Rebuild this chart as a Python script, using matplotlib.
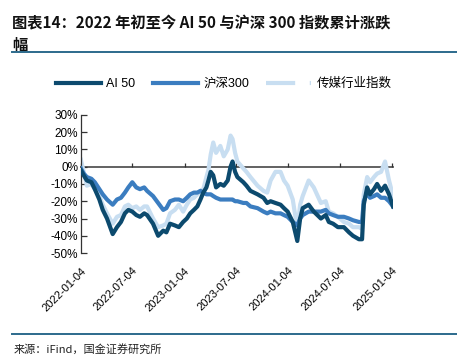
import matplotlib
matplotlib.use('Agg')
import matplotlib.pyplot as plt
import matplotlib.dates as mdates
from matplotlib.lines import Line2D
from matplotlib.ticker import FuncFormatter
import pandas as pd

plt.rcParams['font.family'] = ['Liberation Sans', 'Noto Sans CJK SC', 'DejaVu Sans']

# 读图估计的数值（%）
dates = pd.to_datetime([
    '2022-01-04', '2022-01-14', '2022-01-25', '2022-02-10', '2022-02-22', '2022-03-10',
    '2022-03-22', '2022-04-06', '2022-04-26', '2022-05-11', '2022-05-25', '2022-06-08',
    '2022-06-20', '2022-07-04', '2022-07-18', '2022-07-31', '2022-08-15', '2022-08-25',
    '2022-09-15', '2022-10-03', '2022-10-21', '2022-11-01', '2022-11-14', '2022-12-01',
    '2022-12-15', '2022-12-30', '2023-01-12', '2023-01-24', '2023-02-06', '2023-02-18',
    '2023-03-01', '2023-03-11', '2023-03-22', '2023-03-29', '2023-04-06', '2023-04-15',
    '2023-04-25', '2023-05-10', '2023-05-22', '2023-06-05', '2023-06-15', '2023-06-22',
    '2023-07-01', '2023-07-09', '2023-07-30', '2023-08-10', '2023-08-24', '2023-09-18',
    '2023-10-09', '2023-10-22', '2023-11-03', '2023-11-20', '2023-12-08', '2023-12-20',
    '2024-01-02', '2024-01-20', '2024-02-05', '2024-02-15', '2024-02-24', '2024-03-16',
    '2024-04-03', '2024-04-28', '2024-05-15', '2024-05-26', '2024-06-10', '2024-06-27',
    '2024-07-18', '2024-08-05', '2024-08-19', '2024-09-09', '2024-09-20', '2024-09-26',
    '2024-10-08', '2024-10-18', '2024-11-01', '2024-11-12', '2024-11-26', '2024-12-10',
    '2024-12-24', '2025-01-07',
])

ai50 = [
    -2, -5, -8, -9, -13, -19, -25, -30, -39, -35, -32, -27,
    -25, -26, -28, -29, -27, -28, -33, -40, -37, -38, -33, -34,
    -35, -32, -30, -27, -25, -23, -19, -15, -12, -8, -3, -5,
    -12, -10, -11, -8, 0, 3, -3, -6, -9, -11, -14, -16,
    -18, -21, -20, -21, -22, -24, -26, -32, -43, -30, -24, -22,
    -26, -30, -28, -32, -33, -35, -35, -38, -40, -42, -42, -22,
    -12, -16, -13, -10, -14, -11, -16, -23,
]

hs300 = [
    -1, -4, -6, -7, -9, -13, -16, -19, -22, -19, -18, -15,
    -12, -9, -12, -13, -12, -14, -17, -21, -25, -24, -20, -19,
    -19, -20, -18, -16, -15, -15, -14, -15, -16, -16, -16, -17,
    -18, -19, -19, -19, -19, -19, -20, -20, -21, -21, -23, -24,
    -26, -27, -26, -27, -27, -28, -29, -32, -34, -30, -28, -26,
    -26, -26, -25, -27, -28, -29, -29, -30, -31, -32, -32, -20,
    -15, -18, -17, -16, -18, -18, -20, -23,
]

media = [
    4, -3, -11, -10, -13, -17, -22, -27, -33, -29, -28, -23,
    -22, -24, -23, -25, -23, -23, -30, -35, -34, -33, -27, -25,
    -22, -26, -22, -19, -18, -16, -14, -13, -6, -2, 7, 14,
    8, 12, 6, 10, 18, 16, 8, 3, -1, -3, -6, -11,
    -14, -15, -8, -3, -3, -8, -11, -19, -36, -22, -17, -8,
    -12, -21, -20, -26, -27, -29, -32, -33, -35, -35, -36, -16,
    -6, -9, -6, -4, -3, 3, -8, -17,
]

labels = ['AI 50', '沪深300', '传媒行业指数']
tick_dates = pd.to_datetime(['2022-01-04', '2022-07-04', '2023-01-04', '2023-07-04',
                             '2024-01-04', '2024-07-04', '2025-01-04'])

c_ai = '#0c4a6e'
c_hs = '#3b7dc0'
c_md = '#c8def1'

fig = plt.figure(figsize=(4.57, 3.6), dpi=100)
ax = fig.add_axes([0.177, 0.297, 0.683, 0.384])

ax.plot(dates, media, color=c_md, lw=3.0, zorder=2)
ax.plot(dates, hs300, color=c_hs, lw=3.0, zorder=3)
ax.plot(dates, ai50, color=c_ai, lw=3.0, zorder=4)

ax.set_ylim(-50, 30)
ax.set_yticks(range(-50, 31, 10))
ax.yaxis.set_major_formatter(FuncFormatter(lambda v, p: f'{int(v)}%'))
ax.set_xlim(dates[0], dates[-1])
ax.set_xticks(tick_dates)
ax.xaxis.set_major_formatter(mdates.DateFormatter('%Y-%m-%d'))

for s in ['right', 'bottom']:
    ax.spines[s].set_visible(False)
ax.spines['top'].set_position(('data', 0))
ax.spines['top'].set_color('#555555')
ax.spines['top'].set_linewidth(1.3)
ax.spines['top'].set_zorder(1)
ax.spines['left'].set_color('#333333')
ax.spines['left'].set_linewidth(0.9)

ax.tick_params(axis='x', top=True, bottom=False, labeltop=False, labelbottom=True,
               direction='out', length=3, width=0.9, color='#333333', labelsize=8, pad=6)
ax.tick_params(axis='y', direction='in', length=4, width=0.9, color='#333333',
               labelsize=8.5, pad=2)
for lab in ax.get_xticklabels():
    lab.set_rotation(45)
    lab.set_ha('right')
    lab.set_va('top')
    lab.set_rotation_mode('anchor')

handles = [
    Line2D([], [], color=c_ai, lw=3),
    Line2D([], [], color=c_hs, lw=3),
    Line2D([], [], color=c_md, lw=3, dashes=[7, 3.5, 0.8, 3]),
]
fig.legend(handles, labels, loc='center', bbox_to_anchor=(0.49, 0.767), ncol=3,
           frameon=False, fontsize=9, handlelength=3.6, handletextpad=0.4,
           columnspacing=1.4)

fig.text(0.026, 0.958, '图表14：2022 年初至今 AI 50 与沪深 300 指数累计涨跌\n幅',
         fontsize=11, fontweight='bold', ha='left', va='top', linespacing=1.45,
         family=['Noto Sans CJK SC', 'DejaVu Sans'], color='#111111')

fig.add_artist(Line2D([0.026, 1.0], [1 - 52 / 360] * 2, color='#2c6a8c', lw=1.4))
fig.add_artist(Line2D([0.026, 1.0], [1 - 334 / 360] * 2, color='#2c6a8c', lw=1.4))

fig.text(0.03, 1 - 349 / 360, '来源：iFind，国金证券研究所', fontsize=8, ha='left', va='center',
         family=['Noto Sans CJK SC', 'DejaVu Sans'], color='#222222')

fig.savefig('out.png', dpi=100)
